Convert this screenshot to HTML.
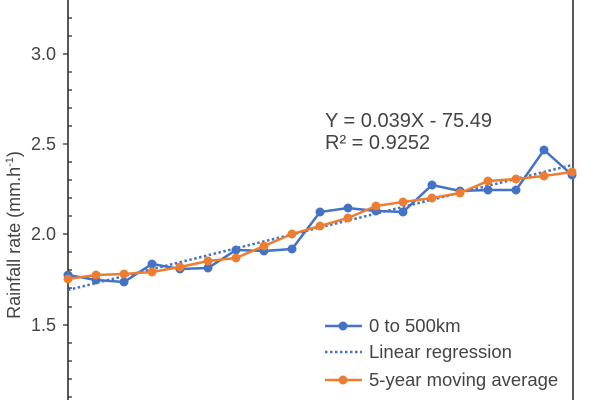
<!DOCTYPE html><html><head><style>body{margin:0;background:#fff}svg{display:block}text{font-family:"Liberation Sans",sans-serif}</style></head><body>
<svg width="600" height="400" xmlns="http://www.w3.org/2000/svg">
<line x1="68" y1="0" x2="68" y2="400" stroke="#222" stroke-width="1.5"/>
<line x1="573" y1="0" x2="573" y2="400" stroke="#222" stroke-width="1.5"/>
<g stroke="#222" stroke-width="1.2">
<line x1="63" y1="54" x2="68" y2="54"/><line x1="63" y1="144" x2="68" y2="144"/><line x1="63" y1="234" x2="68" y2="234"/><line x1="63" y1="325" x2="68" y2="325"/>
<line x1="68" y1="18" x2="72" y2="18"/><line x1="68" y1="36" x2="72" y2="36"/><line x1="68" y1="72" x2="72" y2="72"/><line x1="68" y1="90" x2="72" y2="90"/><line x1="68" y1="108" x2="72" y2="108"/><line x1="68" y1="126" x2="72" y2="126"/><line x1="68" y1="162" x2="72" y2="162"/><line x1="68" y1="180" x2="72" y2="180"/><line x1="68" y1="198" x2="72" y2="198"/><line x1="68" y1="216" x2="72" y2="216"/><line x1="68" y1="252" x2="72" y2="252"/><line x1="68" y1="270" x2="72" y2="270"/><line x1="68" y1="288" x2="72" y2="288"/><line x1="68" y1="307" x2="72" y2="307"/><line x1="68" y1="343" x2="72" y2="343"/><line x1="68" y1="361" x2="72" y2="361"/><line x1="68" y1="379" x2="72" y2="379"/><line x1="68" y1="397" x2="72" y2="397"/>
</g>
<g font-size="18" fill="#444" text-anchor="end">
<text x="56" y="60">3.0</text><text x="56" y="150">2.5</text><text x="56" y="240">2.0</text><text x="56" y="331">1.5</text>
</g>
<text transform="translate(20,235) rotate(-90)" font-size="18" fill="#444" text-anchor="middle">Rainfall rate (mm.h<tspan font-size="11" dy="-7">-1</tspan><tspan dy="7">)</tspan></text>
<line x1="68" y1="290" x2="572" y2="165" stroke="#4472c4" stroke-width="2.5" stroke-dasharray="2.5 2.5"/>
<polyline fill="none" stroke="#4472c4" stroke-width="2.5" points="68,275 96,280 124,282 152,264 180,269 208,268 236,250 264,251 292,249 320,212 348,208 376,211 403,212 432,185 460,191 488,190 516,190 544,150 572,175"/>
<g fill="#4472c4"><circle cx="68" cy="275" r="4.5"/><circle cx="96" cy="280" r="4.5"/><circle cx="124" cy="282" r="4.5"/><circle cx="152" cy="264" r="4.5"/><circle cx="180" cy="269" r="4.5"/><circle cx="208" cy="268" r="4.5"/><circle cx="236" cy="250" r="4.5"/><circle cx="264" cy="251" r="4.5"/><circle cx="292" cy="249" r="4.5"/><circle cx="320" cy="212" r="4.5"/><circle cx="348" cy="208" r="4.5"/><circle cx="376" cy="211" r="4.5"/><circle cx="403" cy="212" r="4.5"/><circle cx="432" cy="185" r="4.5"/><circle cx="460" cy="191" r="4.5"/><circle cx="488" cy="190" r="4.5"/><circle cx="516" cy="190" r="4.5"/><circle cx="544" cy="150" r="4.5"/><circle cx="572" cy="175" r="4.5"/></g>
<polyline fill="none" stroke="#ed7d31" stroke-width="2.5" points="68,279 96,275 124,274 152,272 180,267 208,261 236,258 264,246 292,234 320,226 348,218 376,206 403,202 432,198 460,193 488,181 516,179 544,176 572,172"/>
<g fill="#ed7d31"><circle cx="68" cy="279" r="4.5"/><circle cx="96" cy="275" r="4.5"/><circle cx="124" cy="274" r="4.5"/><circle cx="152" cy="272" r="4.5"/><circle cx="180" cy="267" r="4.5"/><circle cx="208" cy="261" r="4.5"/><circle cx="236" cy="258" r="4.5"/><circle cx="264" cy="246" r="4.5"/><circle cx="292" cy="234" r="4.5"/><circle cx="320" cy="226" r="4.5"/><circle cx="348" cy="218" r="4.5"/><circle cx="376" cy="206" r="4.5"/><circle cx="403" cy="202" r="4.5"/><circle cx="432" cy="198" r="4.5"/><circle cx="460" cy="193" r="4.5"/><circle cx="488" cy="181" r="4.5"/><circle cx="516" cy="179" r="4.5"/><circle cx="544" cy="176" r="4.5"/><circle cx="572" cy="172" r="4.5"/></g>
<g font-size="20" fill="#444">
<text x="325" y="127">Y = 0.039X - 75.49</text><text x="325" y="149">R² = 0.9252</text>
</g>
<line x1="325" y1="326" x2="362" y2="326" stroke="#4472c4" stroke-width="2.5"/><circle cx="343" cy="326" r="4.5" fill="#4472c4"/>
<line x1="325" y1="352" x2="362" y2="352" stroke="#4472c4" stroke-width="2.5" stroke-dasharray="2.5 2.5"/>
<line x1="325" y1="380" x2="362" y2="380" stroke="#ed7d31" stroke-width="2.5"/><circle cx="343" cy="380" r="4.5" fill="#ed7d31"/>
<g font-size="18.5" fill="#444"><text x="369" y="332">0 to 500km</text><text x="369" y="358">Linear regression</text><text x="369" y="386">5-year moving average</text></g>
</svg></body></html>
